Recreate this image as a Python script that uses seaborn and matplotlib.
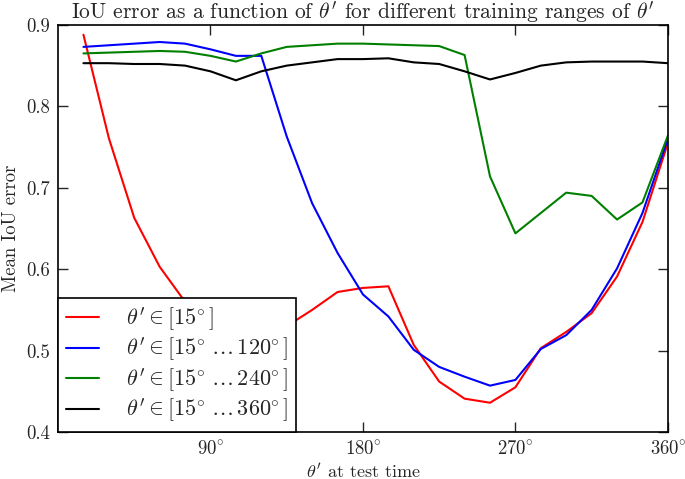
import matplotlib
matplotlib.use("Agg")
import matplotlib.pyplot as plt
import seaborn as sns
import pandas as pd

angles = list(range(15, 361, 15))
err_15 = [0.888, 0.761, 0.663, 0.603, 0.560, 0.540, 0.525, 0.515, 0.530, 0.550, 0.572, 0.577,
          0.579, 0.507, 0.462, 0.441, 0.436, 0.455, 0.503, 0.523, 0.546, 0.591, 0.658, 0.755]
err_120 = [0.873, 0.875, 0.877, 0.879, 0.877, 0.870, 0.862, 0.862, 0.763, 0.681, 0.620, 0.569,
           0.542, 0.501, 0.480, 0.468, 0.457, 0.464, 0.502, 0.519, 0.550, 0.601, 0.669, 0.760]
err_240 = [0.865, 0.866, 0.867, 0.868, 0.867, 0.862, 0.855, 0.865, 0.873, 0.875, 0.877, 0.877,
           0.876, 0.875, 0.874, 0.863, 0.714, 0.644, 0.669, 0.694, 0.690, 0.661, 0.682, 0.764]
err_360 = [0.853, 0.853, 0.852, 0.852, 0.850, 0.843, 0.832, 0.843, 0.850, 0.854, 0.858, 0.858,
           0.859, 0.854, 0.852, 0.843, 0.833, 0.841, 0.850, 0.854, 0.855, 0.855, 0.855, 0.853]
labels = [r"$\theta' \in [15\!^\circ]$",
          r"$\theta' \in [15\!^\circ \, \ldots \, 120\!^\circ]$",
          r"$\theta' \in [15\!^\circ \, \ldots \, 240\!^\circ]$",
          r"$\theta' \in [15\!^\circ \, \ldots \, 360\!^\circ]$"]
colors = ["#ff0000", "#0000ff", "#008000", "#000000"]
xticks = [90, 180, 270, 360]
xtick_labels = [r"$90\!^\circ$", r"$180\!^\circ$", r"$270\!^\circ$", r"$360\!^\circ$"]
yticks = [0.4, 0.5, 0.6, 0.7, 0.8, 0.9]

rows = []
for lab, vals in zip(labels, [err_15, err_120, err_240, err_360]):
    for a, v in zip(angles, vals):
        rows.append({"angle": a, "err": v, "range": lab})
df = pd.DataFrame(rows)

sns.set_style("ticks")
plt.rcParams["font.family"] = ["cmr10", "DejaVu Serif"]
plt.rcParams["mathtext.fontset"] = "cm"
plt.rcParams["axes.unicode_minus"] = False

fig = plt.figure(figsize=(6.85, 4.79), dpi=100)
ax = fig.add_axes([0.0847, 0.098, 0.8903, 0.850])
sns.lineplot(data=df, x="angle", y="err", hue="range", palette=colors,
             hue_order=labels, linewidth=1.5, ax=ax)

ax.set_xlim(0, 360)
ax.set_ylim(0.4, 0.9)
ax.set_xticks(xticks)
ax.set_xticklabels(xtick_labels)
ax.set_yticks(yticks)
ax.set_yticklabels([f"{v:.1f}" for v in yticks])
ax.tick_params(direction="in", top=True, right=True, length=7, width=1,
               labelsize=13.5, pad=6)
for s in ax.spines.values():
    s.set_visible(True)
    s.set_linewidth(1.2)
    s.set_color("black")

ax.set_title(r"IoU error as a function of $\theta'$ for different training ranges of $\theta'$",
             fontsize=15.5, pad=4)
ax.set_xlabel(r"$\theta'$ at test time", fontsize=13, labelpad=2)
ax.set_ylabel("Mean IoU error", fontsize=13.5, labelpad=4)

leg = ax.legend(loc="lower left", fontsize=16, frameon=True, fancybox=False,
                edgecolor="black", framealpha=1, borderaxespad=0,
                handlelength=1.5, handletextpad=1.2, labelspacing=0.14,
                borderpad=0.35)
leg.get_frame().set_linewidth(1.2)
leg.set_title(None)

fig.savefig("out.png", dpi=100)
